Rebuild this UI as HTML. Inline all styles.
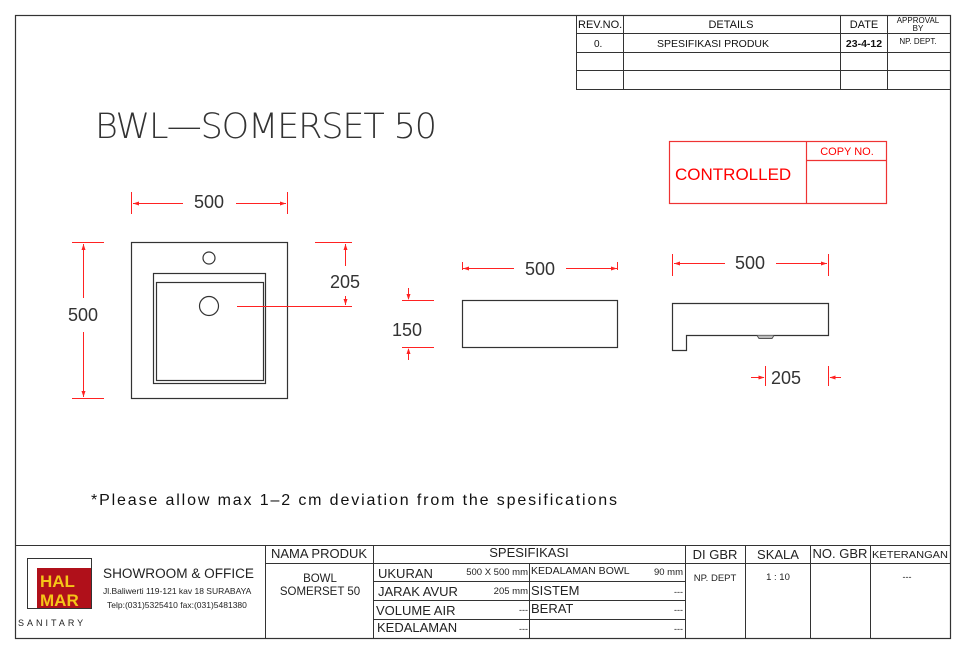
<!DOCTYPE html>
<html><head><meta charset="utf-8"><style>
html,body{margin:0;padding:0;background:#fff;}
svg{display:block;font-family:"Liberation Sans",sans-serif;}
</style></head><body>
<svg width="968" height="651" viewBox="0 0 968 651" xmlns="http://www.w3.org/2000/svg">
<rect x="0" y="0" width="968" height="651" fill="#fff"/>
<rect x="15.5" y="15.5" width="935" height="623" fill="none" stroke="#333" stroke-width="1.2"/>

<g stroke="#333" stroke-width="1" fill="none">
<rect x="576.5" y="15.5" width="374" height="74"/>
<line x1="623.5" y1="15" x2="623.5" y2="90"/>
<line x1="840.5" y1="15" x2="840.5" y2="90"/>
<line x1="887.5" y1="15" x2="887.5" y2="90"/>
<line x1="576" y1="33.5" x2="950" y2="33.5"/>
<line x1="576" y1="52.5" x2="950" y2="52.5"/>
<line x1="576" y1="70.5" x2="950" y2="70.5"/>
</g>
<g fill="#111" font-size="11">
<text x="578" y="28">REV.NO.</text>
<text x="731" y="28" text-anchor="middle">DETAILS</text>
<text x="864" y="28" text-anchor="middle">DATE</text>
<text x="918" y="23" text-anchor="middle" font-size="8">APPROVAL</text>
<text x="918" y="31" text-anchor="middle" font-size="8">BY</text>
<text x="594" y="47" font-size="10">0.</text>
<text x="713" y="47" text-anchor="middle" font-size="10.5">SPESIFIKASI PRODUK</text>
<text x="864" y="47" text-anchor="middle" font-size="10.5" font-weight="bold">23-4-12</text>
<text x="918" y="44" text-anchor="middle" font-size="8">NP. DEPT.</text>
</g>

<text x="95" y="138" font-size="35" fill="#333" textLength="342" lengthAdjust="spacing" style="font-family:'DejaVu Sans ExtraLight','DejaVu Sans',sans-serif;font-weight:200">BWL—SOMERSET 50</text>

<g stroke="#e33" stroke-width="1.2" fill="none">
<rect x="669.5" y="141.5" width="217" height="62"/>
<line x1="806.5" y1="141" x2="806.5" y2="203"/>
<line x1="806" y1="160.5" x2="887" y2="160.5"/>
</g>
<text x="675" y="180" font-size="17" fill="#f00">CONTROLLED</text>
<text x="847" y="155" font-size="11" fill="#f00" text-anchor="middle">COPY NO.</text>

<g stroke="#333" stroke-width="1.2" fill="none">
<rect x="131.5" y="242.5" width="156" height="156"/>
<rect x="153.5" y="273.5" width="112" height="110"/>
<rect x="156.5" y="282.5" width="107" height="98"/>
<circle cx="209" cy="258" r="6"/>
<circle cx="209" cy="306" r="9.5"/>
</g>
<g stroke="#f22" stroke-width="1" fill="none">
<line x1="131.5" y1="192" x2="131.5" y2="214"/>
<line x1="287.5" y1="192" x2="287.5" y2="214"/>
<line x1="133" y1="203.5" x2="183" y2="203.5"/>
<line x1="236" y1="203.5" x2="286" y2="203.5"/>
<line x1="72" y1="242.5" x2="104" y2="242.5"/>
<line x1="72" y1="398.5" x2="104" y2="398.5"/>
<line x1="83.5" y1="244" x2="83.5" y2="298"/>
<line x1="83.5" y1="332" x2="83.5" y2="397"/>
<line x1="315" y1="242.5" x2="352" y2="242.5"/>
<line x1="237" y1="306.5" x2="352" y2="306.5"/>
<line x1="345.5" y1="244" x2="345.5" y2="266"/>
<line x1="345.5" y1="296" x2="345.5" y2="305"/>
</g>
<g fill="#f22">
<path d="M133 203.5 l6 -2 v4z"/><path d="M286 203.5 l-6 -2 v4z"/>
<path d="M83.5 244 l-2 6 h4z"/><path d="M83.5 397 l-2 -6 h4z"/>
<path d="M345.5 244 l-2 6 h4z"/><path d="M345.5 305 l-2 -6 h4z"/>
</g>
<g fill="#333" font-size="18">
<text x="209" y="208" text-anchor="middle">500</text>
<text x="83" y="321" text-anchor="middle">500</text>
<text x="345" y="288" text-anchor="middle">205</text>
</g>

<rect x="462.5" y="300.5" width="155" height="47" fill="none" stroke="#333" stroke-width="1.2"/>
<g stroke="#f22" stroke-width="1" fill="none">
<line x1="462.5" y1="262" x2="462.5" y2="270"/>
<line x1="617.5" y1="262" x2="617.5" y2="270"/>
<line x1="463" y1="268.5" x2="514" y2="268.5"/>
<line x1="566" y1="268.5" x2="617" y2="268.5"/>
<line x1="402" y1="300.5" x2="434" y2="300.5"/>
<line x1="402" y1="347.5" x2="434" y2="347.5"/>
<line x1="408.5" y1="288" x2="408.5" y2="299"/>
<line x1="408.5" y1="349" x2="408.5" y2="360"/>
</g>
<g fill="#f22">
<path d="M463 268.5 l6 -2 v4z"/><path d="M617 268.5 l-6 -2 v4z"/>
<path d="M408.5 300 l-2 -6 h4z"/><path d="M408.5 348 l-2 6 h4z"/>
</g>
<g fill="#333" font-size="18">
<text x="540" y="275" text-anchor="middle">500</text>
<text x="407" y="336" text-anchor="middle">150</text>
</g>

<path d="M672.5 303.5 H828.5 V335.5 H686.5 V350.5 H672.5 Z" fill="none" stroke="#333" stroke-width="1.2"/>
<path d="M757 335.5 l2 3 h13 l2 -3" fill="#bbb" stroke="#555" stroke-width="1"/>
<g stroke="#f22" stroke-width="1" fill="none">
<line x1="672.5" y1="254" x2="672.5" y2="276"/>
<line x1="828.5" y1="254" x2="828.5" y2="276"/>
<line x1="674" y1="263.5" x2="725" y2="263.5"/>
<line x1="776" y1="263.5" x2="827" y2="263.5"/>
<line x1="765.5" y1="366" x2="765.5" y2="386"/>
<line x1="828.5" y1="366" x2="828.5" y2="386"/>
<line x1="751" y1="377.5" x2="764" y2="377.5"/>
<line x1="830" y1="377.5" x2="841" y2="377.5"/>
</g>
<g fill="#f22">
<path d="M674 263.5 l6 -2 v4z"/><path d="M827 263.5 l-6 -2 v4z"/>
<path d="M764.5 377.5 l-6 -2 v4z"/><path d="M829.5 377.5 l6 -2 v4z"/>
</g>
<g fill="#333" font-size="18">
<text x="750" y="269" text-anchor="middle">500</text>
<text x="786" y="384" text-anchor="middle">205</text>
</g>

<text x="91" y="505" font-size="16" fill="#111" textLength="526" lengthAdjust="spacing">*Please allow max 1–2 cm deviation from the spesifications</text>

<g stroke="#333" stroke-width="1" fill="none">
<line x1="15" y1="545.5" x2="950" y2="545.5"/>
<line x1="265.5" y1="545" x2="265.5" y2="638"/>
<line x1="373.5" y1="545" x2="373.5" y2="638"/>
<line x1="529.5" y1="563" x2="529.5" y2="638"/>
<line x1="685.5" y1="545" x2="685.5" y2="638"/>
<line x1="745.5" y1="545" x2="745.5" y2="638"/>
<line x1="810.5" y1="545" x2="810.5" y2="638"/>
<line x1="870.5" y1="545" x2="870.5" y2="638"/>
<line x1="265" y1="563.5" x2="950" y2="563.5"/>
<line x1="373" y1="581.5" x2="685" y2="581.5"/>
<line x1="373" y1="600.5" x2="685" y2="600.5"/>
<line x1="373" y1="619.5" x2="685" y2="619.5"/>
</g>
<rect x="27.5" y="558.5" width="64" height="50" fill="none" stroke="#333" stroke-width="1"/>
<rect x="37" y="568" width="54" height="40" fill="#b0101a"/>
<text x="40" y="587" font-size="17" font-weight="bold" fill="#f5c518">HAL</text>
<text x="40" y="606" font-size="17" font-weight="bold" fill="#f5c518">MAR</text>
<text x="18" y="626" font-size="9" fill="#222" letter-spacing="3">SANITARY</text>
<g fill="#222">
<text x="103" y="578" font-size="13.5" textLength="151" lengthAdjust="spacingAndGlyphs">SHOWROOM &amp; OFFICE</text>
<text x="103" y="594" font-size="8.5">Jl.Baliwerti 119-121 kav 18 SURABAYA</text>
<text x="107" y="608" font-size="8.5">Telp:(031)5325410 fax:(031)5481380</text>
<text x="319" y="558" font-size="13" text-anchor="middle">NAMA PRODUK</text>
<text x="320" y="582" font-size="11.5" text-anchor="middle">BOWL</text>
<text x="320" y="595" font-size="11.5" text-anchor="middle">SOMERSET 50</text>
<text x="529" y="557" font-size="13" text-anchor="middle">SPESIFIKASI</text>
<text x="378" y="578" font-size="13">UKURAN</text>
<text x="528" y="575" font-size="9.5" text-anchor="end">500 X 500 mm</text>
<text x="531" y="574" font-size="10.5">KEDALAMAN BOWL</text>
<text x="683" y="575" font-size="9.5" text-anchor="end">90 mm</text>
<text x="378" y="596" font-size="13">JARAK AVUR</text>
<text x="528" y="594" font-size="9.5" text-anchor="end">205 mm</text>
<text x="531" y="595" font-size="13">SISTEM</text>
<text x="683" y="595" font-size="9" text-anchor="end">---</text>
<text x="376" y="615" font-size="13">VOLUME AIR</text>
<text x="528" y="613" font-size="9" text-anchor="end">---</text>
<text x="531" y="613" font-size="13">BERAT</text>
<text x="683" y="613" font-size="9" text-anchor="end">---</text>
<text x="377" y="632" font-size="13">KEDALAMAN</text>
<text x="528" y="632" font-size="9" text-anchor="end">---</text>
<text x="683" y="632" font-size="9" text-anchor="end">---</text>
<text x="715" y="559" font-size="13" text-anchor="middle">DI GBR</text>
<text x="778" y="559" font-size="13" text-anchor="middle">SKALA</text>
<text x="840" y="558" font-size="13" text-anchor="middle">NO. GBR</text>
<text x="910" y="558" font-size="10.5" text-anchor="middle" textLength="76" lengthAdjust="spacingAndGlyphs">KETERANGAN</text>
<text x="715" y="581" font-size="9.5" text-anchor="middle">NP. DEPT</text>
<text x="778" y="580" font-size="9.5" text-anchor="middle">1 : 10</text>
<text x="907" y="580" font-size="9" text-anchor="middle">---</text>
</g>
</svg>
</body></html>
